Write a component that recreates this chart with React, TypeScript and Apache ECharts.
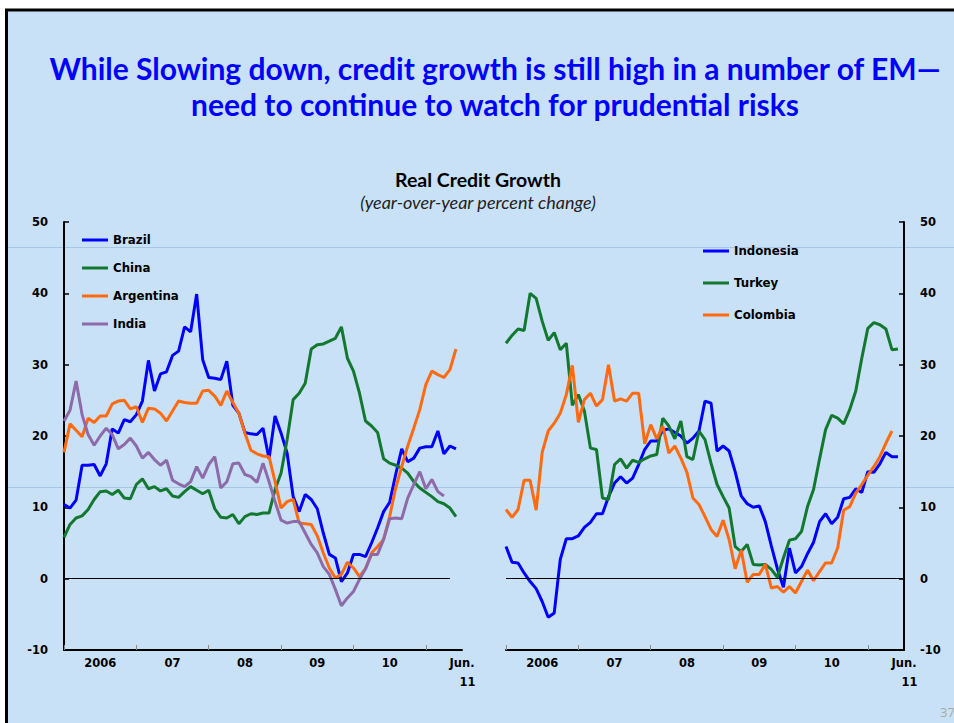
import React, { useEffect, useRef } from "react";
import * as echarts from "echarts";

// ---- categories (monthly, Jan 2006 .. Jul 2011) ----
const months: string[] = [];
for (let y = 2006; y <= 2011; y++) {
  for (let m = 1; m <= 12; m++) {
    if (y === 2011 && m > 7) break;
    months.push(`${y}-${m < 10 ? "0" + m : m}`);
  }
}
const yearLabels = ["2006", "07", "08", "09", "10"];
const endLabel = ["Jun.", "11"];

// ---- left panel series ----
const brazil = [10.4, 9.9, 11.0, 15.9, 15.9, 16.0, 14.4, 16.1, 21.0, 20.4,
  22.3, 22.0, 23.0, 24.9, 30.6, 26.3, 28.7, 29.0, 31.3, 31.9,
  35.3, 34.6, 39.9, 30.7, 28.2, 28.1, 27.9, 30.5, 24.3, 23.2,
  20.5, 20.3, 20.2, 21.1, 16.8, 22.8, 20.4, 17.6, 11.5, 9.4,
  11.8, 11.1, 9.8, 6.4, 3.4, 2.9, -0.4, 0.8, 3.4, 3.4,
  3.1, 5.0, 7.1, 9.4, 10.7, 14.6, 18.2, 16.4, 16.9, 18.3,
  18.5, 18.5, 20.7, 17.5, 18.6, 18.2];
const china = [5.8, 7.6, 8.5, 8.8, 9.7, 11.1, 12.2, 12.3, 11.8, 12.4,
  11.3, 11.2, 13.2, 14.0, 12.6, 12.9, 12.3, 12.6, 11.6, 11.4,
  12.2, 12.9, 12.4, 11.9, 12.4, 9.8, 8.6, 8.5, 9.0, 7.7,
  8.7, 9.1, 9.0, 9.2, 9.2, 12.5, 14.8, 19.5, 25.1, 26.0,
  27.4, 32.2, 32.8, 32.9, 33.3, 33.7, 35.3, 30.9, 29.1, 26.0,
  22.1, 21.4, 20.5, 16.8, 16.2, 15.9, 15.5, 14.8, 13.6, 12.7,
  12.1, 11.5, 10.8, 10.5, 9.9, 8.7];
const argentina = [17.7, 21.7, 20.8, 19.9, 22.5, 21.9, 22.8, 22.8, 24.5, 24.9,
  25.0, 23.8, 24.1, 21.9, 23.9, 23.8, 23.2, 22.1, 23.5, 24.9,
  24.7, 24.6, 24.6, 26.3, 26.4, 25.6, 24.3, 26.3, 24.7, 23.2,
  20.4, 18.0, 17.5, 17.2, 17.1, 13.6, 9.9, 10.8, 11.1, 7.8,
  7.7, 7.6, 6.0, 3.6, 1.5, 0.1, 0.6, 2.3, 1.5, 0.3,
  1.4, 3.6, 4.5, 5.5, 8.7, 12.7, 15.7, 18.6, 21.1, 23.7,
  27.2, 29.1, 28.6, 28.2, 29.3, 32.2];
const india = [22.1, 23.6, 27.7, 23.0, 20.2, 18.7, 20.0, 21.1, 20.2, 18.2,
  18.8, 19.7, 18.6, 16.9, 17.7, 16.7, 15.9, 16.6, 13.8, 13.3,
  12.9, 13.6, 15.7, 14.1, 16.0, 17.1, 12.7, 13.6, 16.1, 16.2,
  14.6, 14.3, 13.5, 16.2, 13.6, 10.8, 8.2, 7.8, 8.0, 8.0,
  6.4, 4.8, 3.6, 1.7, 0.6, -1.5, -3.8, -2.7, -1.8, -0.1,
  1.4, 3.4, 3.4, 5.5, 8.4, 8.5, 8.4, 11.3, 13.2, 15.0,
  12.6, 13.9, 12.2, 11.6, null, null];

// ---- right panel series ----
const indonesia = [4.5, 2.3, 2.2, 0.8, -0.4, -1.4, -3.2, -5.4, -4.8, 2.7,
  5.6, 5.6, 6.0, 7.2, 7.9, 9.1, 9.1, 11.5, 13.4, 14.3,
  13.4, 14.1, 16.0, 18.1, 19.3, 19.3, 20.8, 21.0, 20.5, 20.0,
  19.0, 19.7, 20.7, 24.9, 24.6, 17.9, 18.6, 17.9, 15.0, 11.6,
  10.5, 10.0, 10.2, 8.0, 4.6, 1.4, -1.2, 4.3, 0.8, 1.7,
  3.5, 5.1, 8.0, 9.1, 7.7, 8.6, 11.2, 11.4, 12.6, 12.1,
  15.0, 14.9, 16.1, 17.7, 17.1, 17.1];
const turkey = [33.0, 34.1, 35.0, 34.8, 40.0, 39.3, 36.1, 33.4, 34.5, 32.1,
  33.0, 24.3, 25.8, 23.5, 18.3, 18.1, 11.3, 11.1, 16.0, 16.8,
  15.5, 16.6, 16.3, 16.8, 17.2, 17.4, 22.5, 21.4, 19.6, 22.1,
  17.1, 16.7, 20.7, 19.5, 16.2, 13.2, 11.5, 9.9, 4.5, 3.8,
  4.8, 2.0, 1.9, 2.0, 1.3, 0.2, 2.9, 5.4, 5.6, 6.6,
  10.1, 12.5, 16.8, 20.9, 22.9, 22.5, 21.7, 23.7, 26.3, 30.9,
  35.1, 35.9, 35.6, 35.0, 32.1, 32.2];
const colombia = [9.7, 8.6, 9.7, 13.8, 13.8, 9.6, 17.7, 20.7, 21.8, 23.2,
  25.8, 29.9, 21.9, 25.1, 26.0, 24.2, 25.1, 30.0, 24.9, 25.2,
  24.9, 26.0, 26.0, 18.9, 21.6, 19.6, 21.4, 17.6, 18.6, 16.9,
  14.9, 11.3, 10.4, 8.7, 6.9, 5.9, 8.2, 5.5, 1.4, 4.0,
  -0.5, 0.6, 0.6, 2.0, -1.3, -1.1, -1.9, -1.1, -2.0, -0.4,
  1.2, -0.3, 1.0, 2.2, 2.2, 4.3, 9.6, 10.1, 12.0, 13.2,
  14.5, 15.7, 17.1, 19.0, 20.7, null];

const BLUE = "#0000ff";
const GREEN = "#13782f";
const ORANGE = "#ff6a10";
const PURPLE = "#8d6aa8";
const BG = "#c9e1f6";
const AXFONT = "DejaVu Sans";

function makeX(gridIndex: number) {
  return {
    gridIndex,
    type: "category",
    data: months,
    boundaryGap: false,
    axisLine: { onZero: false, lineStyle: { color: "#000", width: 2 } },
    axisTick: {
      show: true,
      inside: true,
      length: 5,
      interval: (i: number) => i % 12 === 0,
      lineStyle: { color: "#8a8a8a", width: 1 },
    },
    axisLabel: {
      interval: (i: number) => i % 12 === 6 || i === 66,
      formatter: (_v: string, i: number) =>
        i === 66 ? `${endLabel[0]}\n{r|${endLabel[1]}}` : yearLabels[(i - 6) / 12],
      margin: 3,
      lineHeight: 19,
      fontFamily: AXFONT,
      fontWeight: "bold",
      fontSize: 11.5,
      color: "#000",
      rich: {
        r: {
          padding: [0, 0, 0, 11],
          fontFamily: AXFONT,
          fontWeight: "bold",
          fontSize: 11.5,
          color: "#000",
          lineHeight: 19,
        },
      },
    },
    splitLine: { show: false },
  };
}

function makeY(gridIndex: number, position: string) {
  return {
    gridIndex,
    type: "value",
    position,
    min: -10,
    max: 50,
    interval: 10,
    axisLine: { show: true, lineStyle: { color: "#000", width: 2 } },
    axisTick: { show: true, inside: true, length: 5, lineStyle: { color: "#000", width: 1.5 } },
    splitLine: { show: false },
    axisLabel: {
      margin: 16,
      fontFamily: AXFONT,
      fontWeight: "bold",
      fontSize: 11.5,
      color: "#000",
    },
  };
}

function line(name: string, data: (number | null)[], color: string, axis: number, extra: any = {}) {
  return {
    name,
    type: "line",
    data,
    xAxisIndex: axis,
    yAxisIndex: axis,
    symbol: "none",
    connectNulls: false,
    lineStyle: { color, width: 3 },
    itemStyle: { color },
    ...extra,
  };
}

const zeroLine = (endIdx: number) => ({
  silent: true,
  symbol: ["none", "none"],
  label: { show: false },
  lineStyle: { color: "#000", width: 1.2, type: "solid" },
  data: [[{ coord: [months[0], 0] }, { coord: [months[endIdx], 0] }]],
});

export default function App() {
  const ref = useRef<HTMLDivElement>(null);
  useEffect(() => {
    if (!ref.current) return;
    const chart = echarts.init(ref.current, null, { renderer: "svg" });
    const legendText = {
      fontFamily: AXFONT,
      fontWeight: "bold",
      fontSize: 11.8,
      color: "#000",
      lineHeight: 14,
    };
    chart.setOption({
      animation: false,
      backgroundColor: "#ffffff",
      graphic: [
        {
          type: "rect",
          z: -100,
          shape: { x: 6.5, y: 10, width: 1000, height: 800 },
          style: { fill: BG, stroke: "#000", lineWidth: 3 },
        },
        {
          type: "line",
          z: -90,
          shape: { x1: 8, y1: 247.5, x2: 954, y2: 247.5 },
          style: { stroke: "#a7c6e4", lineWidth: 1 },
        },
        {
          type: "line",
          z: -90,
          shape: { x1: 8, y1: 487.5, x2: 954, y2: 487.5 },
          style: { stroke: "#a7c6e4", lineWidth: 1 },
        },
        {
          type: "text",
          x: 940,
          y: 705,
          style: { text: "37", fill: "#a9a9a9", font: "13px 'Open Sans'" },
        },
      ],
      title: [
        {
          text:
            "While Slowing down, credit growth is still high in a number of EM—\nneed to continue to watch for prudential risks",
          left: 495,
          top: 50,
          padding: 0,
          textAlign: "center",
          textStyle: {
            fontFamily: "Lato",
            fontWeight: "bold",
            fontSize: 30,
            lineHeight: 36,
            color: "#0000ff",
          },
        },
        {
          text: "Real Credit Growth",
          left: 478,
          top: 169,
          padding: 0,
          textAlign: "center",
          textStyle: { fontFamily: "Lato", fontWeight: "bold", fontSize: 19.5, color: "#000" },
        },
        {
          text: "(year-over-year percent change)",
          left: 478,
          top: 193,
          padding: 0,
          textAlign: "center",
          textStyle: {
            fontFamily: "Lato",
            fontStyle: "italic",
            fontWeight: "normal",
            fontSize: 18,
            color: "#222",
          },
        },
      ],
      legend: [
        {
          data: ["Brazil", "China", "Argentina", "India"],
          orient: "vertical",
          left: 82,
          top: 233,
          padding: 0,
          itemWidth: 26,
          itemHeight: 3,
          itemGap: 14,
          icon: "rect",
          textStyle: legendText,
        },
        {
          data: ["Indonesia", "Turkey", "Colombia"],
          orient: "vertical",
          left: 703,
          top: 244,
          padding: 0,
          itemWidth: 26,
          itemHeight: 3,
          itemGap: 18,
          icon: "rect",
          textStyle: legendText,
        },
      ],
      grid: [
        { left: 64, top: 222, width: 398, height: 428, containLabel: false },
        { left: 506, top: 222, width: 398, height: 428, containLabel: false },
      ],
      xAxis: [makeX(0), makeX(1)],
      yAxis: [makeY(0, "left"), makeY(1, "right")],
      series: [
        line("Brazil", brazil, BLUE, 0, { markLine: zeroLine(64) }),
        line("China", china, GREEN, 0),
        line("Argentina", argentina, ORANGE, 0),
        line("India", india, PURPLE, 0),
        line("Indonesia", indonesia, BLUE, 1, { markLine: zeroLine(66) }),
        line("Turkey", turkey, GREEN, 1),
        line("Colombia", colombia, ORANGE, 1),
      ],
    });
    return () => chart.dispose();
  }, []);
  return (
    <div
      ref={ref}
      style={{ position: "fixed", left: 0, top: 0, width: 954, height: 723 }}
    />
  );
}
